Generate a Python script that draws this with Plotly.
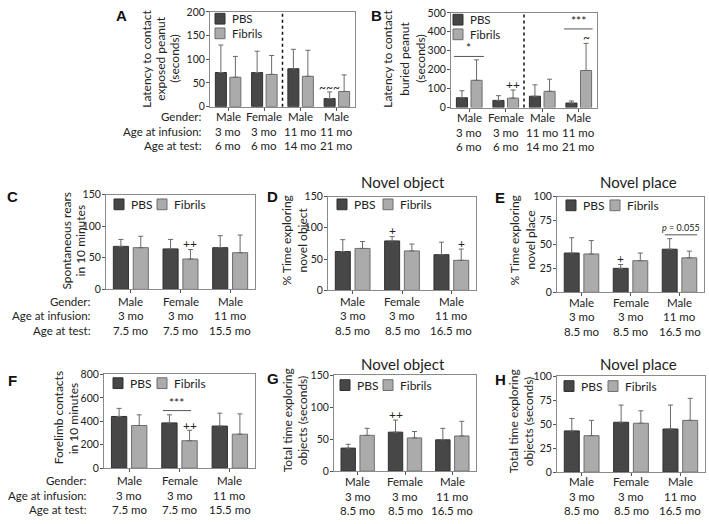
import plotly.graph_objects as go

W, H = 709, 524

# ---------------- data ----------------
series_names = ["PBS", "Fibrils"]
row_titles = ["Gender:", "Age at infusion:", "Age at test:"]

AB_gender = ["Male", "Female", "Male", "Male"]
AB_infusion = ["3 mo", "3 mo", "11 mo", "11 mo"]
AB_test = ["6 mo", "6 mo", "14 mo", "21 mo"]

CF_gender = ["Male", "Female", "Male"]
CF_infusion = ["3 mo", "3 mo", "11 mo"]
CF_test = ["7.5 mo", "7.5 mo", "15.5 mo"]

DE_gender = ["Male", "Female", "Male"]
DE_infusion = ["3 mo", "3 mo", "11 mo"]
DE_test = ["8.5 mo", "8.5 mo", "16.5 mo"]

A_pbs = [72, 72, 80, 17]
A_pbs_err = [58, 45, 41, 14]
A_fib = [62, 68, 64, 32]
A_fib_err = [44, 40, 55, 35]

B_pbs = [52, 38, 60, 24]
B_pbs_err = [37, 25, 60, 11]
B_fib = [144, 50, 86, 196]
B_fib_err = [108, 43, 64, 143]

C_pbs = [68, 64, 66]
C_pbs_err = [11, 15, 19]
C_fib = [66, 48, 58]
C_fib_err = [18, 15, 28]

D_pbs = [62, 79, 57]
D_pbs_err = [19, 7, 20]
D_fib = [67, 63, 48]
D_fib_err = [11, 11, 18]

E_pbs = [41, 25, 45]
E_pbs_err = [16, 4, 11]
E_fib = [40, 33, 36]
E_fib_err = [14, 8, 7]

F_pbs = [441, 386, 359]
F_pbs_err = [69, 69, 110]
F_fib = [364, 234, 290]
F_fib_err = [91, 89, 173]

G_pbs = [36, 61, 49]
G_pbs_err = [6, 19, 18]
G_fib = [56, 52, 55]
G_fib_err = [11, 10, 23]

H_pbs = [43, 52, 45]
H_pbs_err = [13, 18, 25]
H_fib = [38, 51, 54]
H_fib_err = [16, 13, 23]

# significance marks: (text, group position, y value)
A_marks = [("~~~", 3 - 0.2, 41)]
B_marks = [("++", 1 + 0.2, 124), ("~", 3 + 0.2, 372)]
C_marks = [("++", 1 + 0.2, 73)]
D_marks = [("+", 1 - 0.2, 95), ("+", 2 + 0.2, 75)]
E_marks = [("+", 1 - 0.2, 35)]
F_marks = [("++", 1 + 0.2, 364)]
G_marks = [("++", 0.8, 88)]
H_marks = []
# brackets: (text, x0, x1, y value)
B_brackets = [("*", -0.42, 0.40, 270), ("***", 2.6, 3.38, 415)]
E_brackets = [("<i>p</i> = 0.055", 1.7, 2.36, 60)]
F_brackets = [("***", 0.67, 1.23, 491)]

# ---------------- layout ----------------
PBS_COLOR = "#474747"
FIB_COLOR = "#ababab"
FONT = "Lato"
TXT = "#222222"
CAT_SIZE = 11.5

panels = [
    dict(letter="A", box=(210, 355, 6, 103), ymax=200, dtick=50,
         pbs=A_pbs, pbs_err=A_pbs_err, fib=A_fib, fib_err=A_fib_err,
         cats=(AB_gender, AB_infusion, AB_test), rows=(113, 128, 143), left=203,
         ylab=["Latency to contact", "exposed peanut", "(seconds)"],
         ylx=(147, 161, 175), yly=54,
         lpos=(121, 10), title=None, leg=("v", 215, 13, 231),
         marks=A_marks, brackets=[], divider=True),
    dict(letter="B", box=(451, 597, 7, 104), ymax=500, dtick=100,
         pbs=B_pbs, pbs_err=B_pbs_err, fib=B_fib, fib_err=B_fib_err,
         cats=(AB_gender, AB_infusion, AB_test), rows=(114, 129, 144), left=None,
         ylab=["Latency to contact", "buried peanut", "(seconds)"],
         ylx=(388, 405, 421), yly=54,
         lpos=(377, 10), title=None, leg=("v", 453, 14, 469),
         marks=B_marks, brackets=B_brackets, divider=True),
    dict(letter="C", box=(106, 255, 193, 290), ymax=150, dtick=50,
         pbs=C_pbs, pbs_err=C_pbs_err, fib=C_fib, fib_err=C_fib_err,
         cats=(CF_gender, CF_infusion, CF_test), rows=(302, 317, 332), left=92,
         ylab=["Spontaneous rears", "in 10 minutes"], ylx=(67, 81), yly=240,
         lpos=(12, 195), title=None, leg=("h", 114, 157, 203),
         marks=C_marks, brackets=[], divider=False),
    dict(letter="D", box=(328, 476, 195, 291), ymax=150, dtick=50,
         pbs=D_pbs, pbs_err=D_pbs_err, fib=D_fib, fib_err=D_fib_err,
         cats=(DE_gender, DE_infusion, DE_test), rows=(302, 317, 332), left=None,
         ylab=["% Time exploring", "novel object"], ylx=(287, 303), yly=240,
         lpos=(272, 195), title=("Novel object", 403, 180), leg=("h", 337, 383, 203),
         marks=D_marks, brackets=[], divider=False),
    dict(letter="E", box=(557, 704, 195, 293), ymax=100, dtick=25,
         pbs=E_pbs, pbs_err=E_pbs_err, fib=E_fib, fib_err=E_fib_err,
         cats=(DE_gender, DE_infusion, DE_test), rows=(303, 318, 333), left=None,
         ylab=["% Time exploring", "novel place"], ylx=(515, 531), yly=240,
         lpos=(500, 196), title=("Novel place", 638, 180), leg=("h", 566, 610, 204),
         marks=E_marks, brackets=E_brackets, divider=False),
    dict(letter="F", box=(104, 255, 377, 473), ymax=800, dtick=200,
         pbs=F_pbs, pbs_err=F_pbs_err, fib=F_fib, fib_err=F_fib_err,
         cats=(CF_gender, CF_infusion, CF_test), rows=(486, 501, 515), left=88,
         ylab=["Forelimb contacts", "in 10 minutes"], ylx=(58, 73), yly=422,
         lpos=(12, 383), title=None, leg=("h", 113, 157, 386),
         marks=F_marks, brackets=F_brackets, divider=False),
    dict(letter="G", box=(334, 476, 378, 476), ymax=150, dtick=50,
         pbs=G_pbs, pbs_err=G_pbs_err, fib=G_fib, fib_err=G_fib_err,
         cats=(DE_gender, DE_infusion, DE_test), rows=(487, 502, 516), left=None,
         ylab=["Total time exploring", "objects (seconds)"], ylx=(287, 302), yly=424,
         lpos=(273, 381), title=("Novel object", 403, 366), leg=("h", 340, 383, 388),
         marks=G_marks, brackets=[], divider=False),
    dict(letter="H", box=(557, 705, 379, 477), ymax=100, dtick=25,
         pbs=H_pbs, pbs_err=H_pbs_err, fib=H_fib, fib_err=H_fib_err,
         cats=(DE_gender, DE_infusion, DE_test), rows=(487, 502, 516), left=None,
         ylab=["Total time exploring", "objects (seconds)"], ylx=(513, 528), yly=425,
         lpos=(500, 382), title=("Novel place", 638, 366), leg=("h", 564, 608, 389),
         marks=H_marks, brackets=[], divider=False),
]


def px(x):
    return x / W


def py(y):
    return 1 - y / H


fig = go.Figure()
annotations = []
shapes = []
layout = {}

for i, p in enumerate(panels, start=1):
    xa = "x" if i == 1 else f"x{i}"
    ya = "y" if i == 1 else f"y{i}"
    n = len(p["pbs"])
    xs = list(range(n))
    for name, vals, errs, col, lcol in (
        (series_names[0], p["pbs"], p["pbs_err"], PBS_COLOR, "#303030"),
        (series_names[1], p["fib"], p["fib_err"], FIB_COLOR, "#6e6e6e"),
    ):
        fig.add_trace(go.Bar(
            x=xs, y=vals, name=name, xaxis=xa, yaxis=ya, showlegend=False,
            marker=dict(color=col, line=dict(color=lcol, width=1)),
            error_y=dict(type="data", array=errs, arrayminus=[0] * n, symmetric=False,
                         color="#6a6a6a", thickness=1, width=2.5),
        ))
    x0, x1, yt, yb = p["box"]
    axcommon = dict(showline=True, mirror=True, linecolor="#8a8a8a", linewidth=1,
                    showgrid=False, zeroline=False, ticks="outside",
                    tickcolor="#555555", fixedrange=True)
    layout["xaxis" if i == 1 else f"xaxis{i}"] = dict(
        domain=[px(x0), px(x1)], range=[-0.5, n - 0.5], tickvals=xs,
        showticklabels=False, ticklen=3, anchor=ya, **axcommon)
    layout["yaxis" if i == 1 else f"yaxis{i}"] = dict(
        domain=[py(yb), py(yt)], range=[0, p["ymax"]], dtick=p["dtick"], ticklen=3,
        ticklabelstandoff=-1,
        tickfont=dict(family=FONT, size=10.5, color=TXT), anchor=xa, **axcommon)

    # category label rows
    for r, labels in enumerate(p["cats"]):
        for k, lab in enumerate(labels):
            annotations.append(dict(
                x=k, y=py(p["rows"][r]), xref=xa, yref="paper", text=lab,
                showarrow=False, xanchor="center", yanchor="middle", borderpad=0,
                font=dict(family=FONT, size=CAT_SIZE, color=TXT)))
        if p["left"] is not None:
            annotations.append(dict(
                x=px(p["left"]), y=py(p["rows"][r]), xref="paper", yref="paper",
                text=row_titles[r], showarrow=False, xanchor="right", yanchor="middle",
                borderpad=0, font=dict(family=FONT, size=CAT_SIZE, color=TXT)))
    # y label, one annotation per line
    for line, lx in zip(p["ylab"], p["ylx"]):
        annotations.append(dict(
            x=px(lx), y=py(p["yly"]), xref="paper", yref="paper",
            text=line, textangle=-90, showarrow=False, borderpad=0,
            xanchor="center", yanchor="middle",
            font=dict(family=FONT, size=12, color=TXT)))
    # panel letter
    annotations.append(dict(
        x=px(p["lpos"][0]), y=py(p["lpos"][1]), xref="paper", yref="paper",
        text=f"<b>{p['letter']}</b>", showarrow=False, xanchor="center", yanchor="middle",
        font=dict(family="Liberation Sans", size=15, color="#111111")))
    if p["title"]:
        annotations.append(dict(
            x=px(p["title"][1]), y=py(p["title"][2]), xref="paper", yref="paper",
            text=p["title"][0], showarrow=False, xanchor="center", yanchor="middle",
            font=dict(family=FONT, size=15, color=TXT)))
    # legend
    leg = p["leg"]
    if leg[0] == "v":
        items = [(leg[1], leg[2], leg[3]), (leg[1], leg[2] + 15, leg[3])]
        lsize = 11.5
    else:
        items = [(leg[1], leg[3], leg[1] + 16), (leg[2], leg[3], leg[2] + 16)]
        lsize = 12
    for (sx, sy, tx), name, col, lcol in zip(items, series_names,
                                              (PBS_COLOR, FIB_COLOR), ("#303030", "#6e6e6e")):
        shapes.append(dict(type="rect", xref="paper", yref="paper",
                           x0=px(sx), x1=px(sx + 10), y0=py(sy + 5.5), y1=py(sy - 5.5),
                           fillcolor=col, line=dict(color=lcol, width=1)))
        annotations.append(dict(
            x=px(tx), y=py(sy), xref="paper", yref="paper", text=name,
            showarrow=False, xanchor="left", yanchor="middle", borderpad=0,
            font=dict(family=FONT, size=lsize, color=TXT)))
    # significance marks
    for txt, gx, yv in p["marks"]:
        annotations.append(dict(
            x=gx, y=yv, xref=xa, yref=ya, text=txt, showarrow=False,
            xanchor="center", yanchor="middle",
            font=dict(family=FONT, size=12, color=TXT)))
    for txt, bx0, bx1, yv in p["brackets"]:
        shapes.append(dict(type="line", xref=xa, yref=ya, x0=bx0, x1=bx1, y0=yv, y1=yv,
                           line=dict(color="#555555", width=1)))
        small = "0.055" in txt
        annotations.append(dict(
            x=(bx0 + bx1) / 2, y=yv, xref=xa, yref=ya, text=txt, showarrow=False,
            xanchor="center", yanchor="bottom", yshift=-1 if not small else 0,
            font=dict(family=FONT, size=9 if small else 12, color=TXT)))
    if p["divider"]:
        shapes.append(dict(type="line", xref=xa, yref=f"{ya} domain", x0=1.5, x1=1.5,
                           y0=0, y1=1, line=dict(color="#111111", width=1.5, dash="dot")))

fig.update_layout(
    width=W, height=H, margin=dict(l=0, r=0, t=0, b=0),
    paper_bgcolor="white", plot_bgcolor="white",
    barmode="group", bargap=0.2, bargroupgap=0.24,
    showlegend=False, annotations=annotations, shapes=shapes,
    font=dict(family=FONT, color=TXT),
    **layout,
)

fig.write_html(
    "out.html",
    config={"displayModeBar": False},
    post_script="document.body.style.margin='0';document.body.style.padding='0';"
                "document.body.style.overflow='hidden';",
)
